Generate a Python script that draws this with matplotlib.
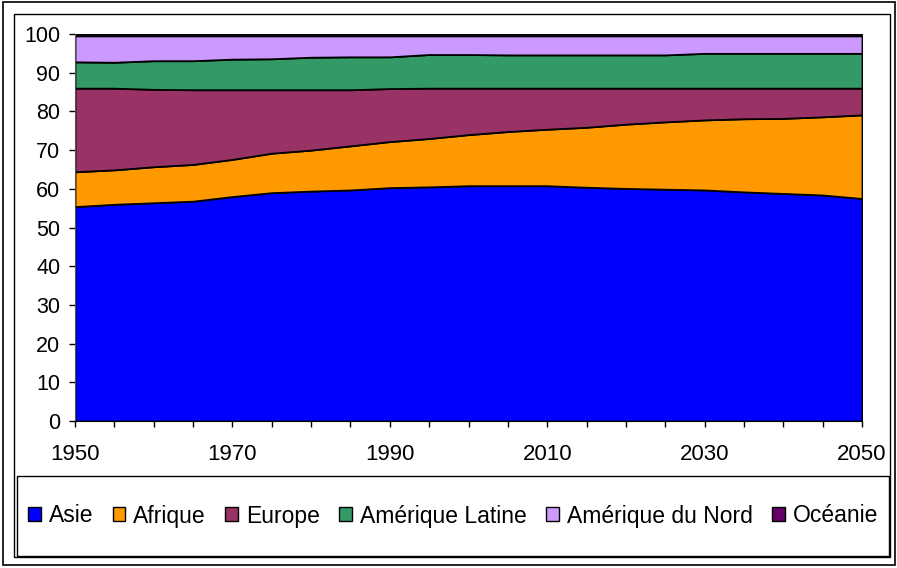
import matplotlib
matplotlib.use("Agg")
import matplotlib.pyplot as plt
from matplotlib.patches import Rectangle, Patch
import numpy as np

plt.rcParams['font.family'] = ['Liberation Sans', 'DejaVu Sans']

years = list(range(1950, 2051, 5))
series_names = ["Asie", "Afrique", "Europe", "Amérique Latine", "Amérique du Nord", "Océanie"]
asie = [55.4, 56.0, 56.4, 56.8, 58.0, 59.0, 59.4, 59.7, 60.3, 60.5, 60.8,
        60.8, 60.8, 60.4, 60.1, 59.9, 59.7, 59.2, 58.8, 58.4, 57.5]
afrique = [9.0, 8.9, 9.3, 9.5, 9.6, 10.2, 10.6, 11.4, 11.9, 12.5, 13.2,
           14.0, 14.6, 15.5, 16.6, 17.4, 18.1, 18.9, 19.4, 20.2, 21.6]
europe = [21.6, 21.1, 20.0, 19.3, 18.0, 16.4, 15.6, 14.5, 13.7, 13.0, 12.0,
          11.2, 10.6, 10.1, 9.3, 8.7, 8.2, 7.9, 7.8, 7.4, 6.9]
amerique_latine = [6.8, 6.7, 7.4, 7.5, 7.9, 8.0, 8.4, 8.5, 8.2, 8.7, 8.7,
                   8.6, 8.6, 8.6, 8.6, 8.6, 9.0, 9.0, 9.0, 9.0, 9.0]
amerique_nord = [6.7, 6.8, 6.4, 6.4, 6.0, 5.9, 5.5, 5.4, 5.4, 4.8, 4.8,
                 4.9, 4.9, 4.9, 4.9, 4.9, 4.5, 4.5, 4.5, 4.5, 4.5]
oceanie = [0.5] * 21
colors = ["#0000FF", "#FF9900", "#993366", "#339966", "#CC99FF", "#660066"]
x_major = [1950, 1970, 1990, 2010, 2030, 2050]
y_major = list(range(0, 101, 10))

W, H = 897, 568
fig = plt.figure(figsize=(W / 100, H / 100), dpi=100)

def fx(px):
    return px / W

def fy(py):
    return 1 - py / H

# frames
fig.patches.append(Rectangle((fx(3), fy(565)), fx(892), fy(2) - fy(565),
                             transform=fig.transFigure, fill=False, lw=1.2, ec="black"))
fig.patches.append(Rectangle((fx(14), fy(557)), fx(876), fy(14) - fy(557),
                             transform=fig.transFigure, fill=False, lw=1.0, ec="black"))
fig.patches.append(Rectangle((fx(17), fy(556)), fx(872), fy(476) - fy(556),
                             transform=fig.transFigure, fill=False, lw=1.0, ec="black"))

ax = fig.add_axes([fx(75), fy(421), fx(862) - fx(75), fy(34) - fy(421)])
data = [asie, afrique, europe, amerique_latine, amerique_nord, oceanie]
polys = ax.stackplot(years, *data, colors=colors, edgecolor="black", linewidth=1.3,
                     labels=series_names)
ax.set_xlim(1950, 2050)
ax.set_ylim(0, 100)
ax.set_xticks(x_major)
ax.set_xticks(years, minor=True)
ax.set_yticks(y_major)
ax.tick_params(axis="both", direction="out", length=4.5, width=1, color="black")
ax.tick_params(axis="x", which="minor", direction="out", length=4.5, width=1)
ax.tick_params(axis="x", pad=12, labelsize=16)
ax.tick_params(axis="y", pad=6, labelsize=15.5)
for s in ["top", "right"]:
    ax.spines[s].set_visible(False)
ax.spines["left"].set_color("#555555")
ax.spines["bottom"].set_color("black")

handles = [Patch(facecolor=c, edgecolor="black", linewidth=1) for c in colors]
leg = fig.legend(handles, series_names, loc="center", ncol=6,
                 bbox_to_anchor=((fx(17) + fx(889)) / 2, fy(516)),
                 frameon=False, fontsize=16.5, handlelength=0.55, handleheight=0.55,
                 handletextpad=0.35, columnspacing=0.85, borderaxespad=0, borderpad=0)

fig.savefig("out.png", dpi=100)
